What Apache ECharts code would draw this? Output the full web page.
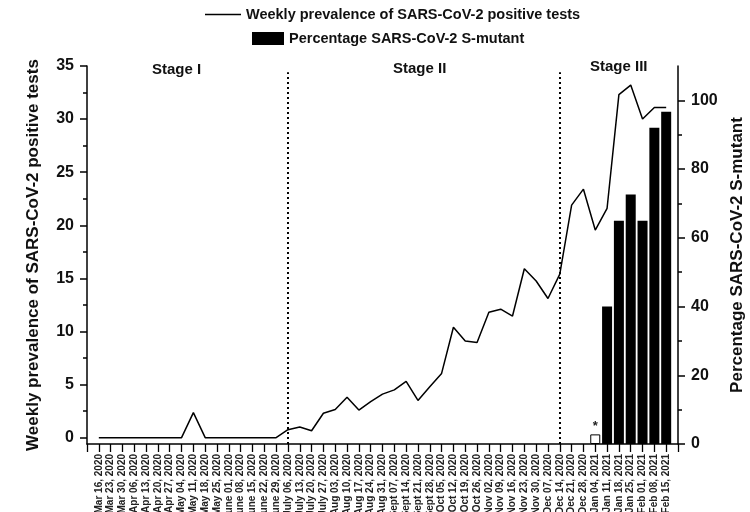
<!DOCTYPE html>
<html>
<head>
<meta charset="utf-8">
<script src="https://cdn.jsdelivr.net/npm/echarts@6/dist/echarts.min.js"></script>
<style>html,body{margin:0;padding:0;background:#fff}#c{width:750px;height:512px}</style>
</head>
<body>
<div id="c"></div>
<script>
const weeks = ['Mar 16, 2020','Mar 23, 2020','Mar 30, 2020','Apr 06, 2020','Apr 13, 2020','Apr 20, 2020','Apr 27, 2020',
 'May 04, 2020','May 11, 2020','May 18, 2020','May 25, 2020','June 01, 2020','June 08, 2020','June 15, 2020','June 22, 2020','June 29, 2020',
 'July 06, 2020','July 13, 2020','July 20, 2020','July 27, 2020','Aug 03, 2020','Aug 10, 2020','Aug 17, 2020','Aug 24, 2020','Aug 31, 2020',
 'Sept 07, 2020','Sept 14, 2020','Sept 21, 2020','Sept 28, 2020','Oct 05, 2020','Oct 12, 2020','Oct 19, 2020','Oct 26, 2020',
 'Nov 02, 2020','Nov 09, 2020','Nov 16, 2020','Nov 23, 2020','Nov 30, 2020','Dec 07, 2020','Dec 14, 2020','Dec 21, 2020','Dec 28, 2020',
 'Jan 04, 2021','Jan 11, 2021','Jan 18, 2021','Jan 25, 2021','Feb 01, 2021','Feb 08, 2021','Feb 15, 2021'];

const prevalence = [0,0,0,0,0,0,0,0,2.35,0,0,0,0,0,0,0,
 0.75,1.0,0.65,2.3,2.65,3.8,2.6,3.4,4.1,4.5,5.3,3.5,4.8,6.05,10.4,9.1,8.95,
 11.8,12.1,11.45,15.9,14.75,13.1,15.4,21.9,23.4,19.55,21.6,32.3,33.2,30.0,31.1,31.1];

const mutant = [null,null,null,null,null,null,null,null,null,null,null,null,null,null,null,null,
 null,null,null,null,null,null,null,null,null,null,null,null,null,null,null,null,null,
 null,null,null,null,null,null,null,null,null,2.8,40,65,72.6,65,92,96.7];

const starredWeek = 'Jan 04, 2021';
const stageBoundaries = ['July 06, 2020','Dec 14, 2020'];
const stageNames = ['Stage I','Stage II','Stage III'];
const leftTicks = [0,5,10,15,20,25,30,35];
const leftMinor = [2.5,7.5,12.5,17.5,22.5,27.5,32.5];
const rightTicks = [0,20,40,60,80,100];
const rightMinor = [10,30,50,70,90];

const lineName = 'Weekly prevalence of SARS-CoV-2 positive tests';
const barName = 'Percentage SARS-CoV-2 S-mutant';
const FONT = 'Liberation Sans, Arial, sans-serif';

const cats = [''].concat(weeks, ['']);
const lineData = [null].concat(prevalence, [null]);
const barData = [null].concat(mutant.map((v, i) => {
  if (v === null) return null;
  if (weeks[i] === starredWeek) {
    return {value: v, itemStyle: {color: '#fff', borderColor: '#000', borderWidth: 1},
            label: {show: true, position: 'top', formatter: '*', distance: 1, fontSize: 13, fontWeight: 'bold', color: '#222'}};
  }
  return v;
}), [null]);

const LMIN = -0.6, LMAX = 35, RMIN = 0, RMAX = 110;
const dotTop = 34.4;

const chart = echarts.init(document.getElementById('c'));
chart.setOption({
  animation: false,
  textStyle: {fontFamily: FONT},
  grid: {left: 87, right: 72, top: 66, bottom: 68, containLabel: false, outerBoundsMode: 'none'},
  legend: [
    {data: [{name: lineName, icon: 'path://M0,0H36V1.5H0Z'}], left: 205, top: 7, padding: 0,
     itemWidth: 36, itemHeight: 1.5, itemGap: 5,
     textStyle: {fontSize: 14.5, fontWeight: 'bold', color: '#111', fontFamily: FONT}},
    {data: [barName], left: 252, top: 31, padding: 0, itemWidth: 32, itemHeight: 13, icon: 'rect',
     textStyle: {fontSize: 14.5, fontWeight: 'bold', color: '#111', fontFamily: FONT}}
  ],
  xAxis: {
    type: 'category', data: cats, boundaryGap: false,
    axisLine: {onZero: false, lineStyle: {color: '#000', width: 1.5}},
    axisTick: {interval: 0, length: 8, lineStyle: {color: '#000', width: 1.3}},
    axisLabel: {interval: 0, rotate: 90, fontSize: 10, fontWeight: 'bold', color: '#222', margin: 10, fontFamily: FONT},
    splitLine: {show: false}
  },
  yAxis: [
    {type: 'value', position: 'left', min: LMIN, max: LMAX,
     name: lineName, nameLocation: 'middle', nameGap: 45, nameRotate: 90,
     nameTextStyle: {fontSize: 17, fontWeight: 'bold', color: '#111', fontFamily: FONT},
     axisLine: {show: true, lineStyle: {color: '#000', width: 1.5}},
     axisTick: {show: true, customValues: leftTicks, length: 7, lineStyle: {color: '#000', width: 1.5}},
     axisLabel: {customValues: leftTicks, fontSize: 16, fontWeight: 'bold', color: '#111', margin: 13, fontFamily: FONT},
     splitLine: {show: false}},
    {type: 'value', position: 'right', min: RMIN, max: RMAX,
     name: barName, nameLocation: 'middle', nameGap: 50, nameRotate: 90,
     nameTextStyle: {fontSize: 17, fontWeight: 'bold', color: '#111', fontFamily: FONT},
     axisLine: {show: true, lineStyle: {color: '#000', width: 1.5}},
     axisTick: {show: true, customValues: rightTicks, length: 7, lineStyle: {color: '#000', width: 1.5}},
     axisLabel: {customValues: rightTicks, fontSize: 16, fontWeight: 'bold', color: '#111', margin: 13, fontFamily: FONT},
     splitLine: {show: false}},
    {type: 'value', position: 'left', min: LMIN, max: LMAX,
     axisLine: {show: false}, axisLabel: {show: false}, splitLine: {show: false},
     axisTick: {show: true, customValues: leftMinor, length: 4, lineStyle: {color: '#000', width: 1.5}}},
    {type: 'value', position: 'right', min: RMIN, max: RMAX,
     axisLine: {show: false}, axisLabel: {show: false}, splitLine: {show: false},
     axisTick: {show: true, customValues: rightMinor, length: 4, lineStyle: {color: '#000', width: 1.5}}}
  ],
  series: [
    {name: barName, type: 'bar', yAxisIndex: 1, data: barData, barWidth: 10,
     itemStyle: {color: '#000'}, z: 1},
    {name: lineName, type: 'line', yAxisIndex: 0, data: lineData, symbol: 'none', showSymbol: false,
     lineStyle: {color: '#000', width: 1.5}, itemStyle: {color: '#000'}, z: 3,
     markLine: {silent: true, symbol: 'none', label: {show: false},
       lineStyle: {color: '#000', width: 2, type: [2, 3]},
       data: stageBoundaries.map(w => [{coord: [w, LMIN]}, {coord: [w, dotTop]}])}}
  ],
  graphic: [
    {type: 'text', left: 177 - 25, top: 62, style: {text: stageNames[0], font: 'bold 15px ' + FONT, fill: '#111'}},
    {type: 'text', left: 421 - 28, top: 61, style: {text: stageNames[1], font: 'bold 15px ' + FONT, fill: '#111'}},
    {type: 'text', left: 620 - 30, top: 59, style: {text: stageNames[2], font: 'bold 15px ' + FONT, fill: '#111'}}
  ]
});
</script>
</body>
</html>
